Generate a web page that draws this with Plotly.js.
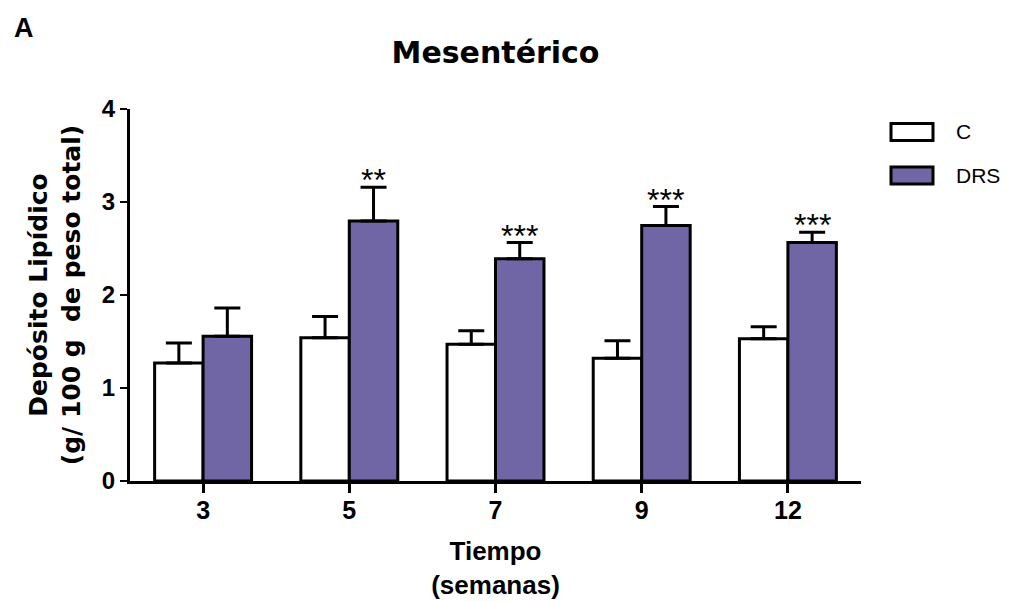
<!DOCTYPE html>
<html>
<head>
<meta charset="utf-8">
<script src="https://cdn.plot.ly/plotly-3.0.1.min.js"></script>
<style>html,body{margin:0;padding:0;background:#fff}</style>
</head>
<body>
<div id="chart" style="width:1016px;height:601px"></div>
<script>
// Mesenteric lipid deposit (g / 100 g body weight), mean + SEM per week
const weeks = ['3', '5', '7', '9', '12'];
const controlMean = [1.27, 1.54, 1.47, 1.32, 1.53];
const controlSem = [0.215, 0.23, 0.146, 0.189, 0.129];
const drsMean = [1.556, 2.797, 2.389, 2.747, 2.564];
const drsSem = [0.305, 0.362, 0.175, 0.204, 0.112];
const drsStars = ['', '**', '***', '***', '***'];
const seriesNames = ['C', 'DRS'];
const yTicks = [0, 1, 2, 3, 4];

const PURPLE = 'rgb(112,102,166)';
const ARIAL = 'Liberation Sans, Arial, sans-serif';
const WIDE = 'DejaVu Sans, sans-serif';

// plot-area geometry in pixels
const W = 1016, H = 601;
const M = {l: 130, r: 155, t: 109, b: 120};
const px2x = p => (p - M.l) / (W - M.l - M.r);
const px2y = p => (H - M.b - p) / (H - M.t - M.b);

const BARGAP = 0.337;

const barStyle = (fill) => ({color: fill, line: {color: '#000', width: 3}});
const errStyle = (arr) => ({
  type: 'data', array: arr, symmetric: false,
  arrayminus: arr.map(() => 0),
  color: '#000', thickness: 3, width: 13
});

const traces = [
  {type: 'bar', name: seriesNames[0], x: weeks, y: controlMean,
   marker: barStyle('#ffffff'), error_y: errStyle(controlSem)},
  {type: 'bar', name: seriesNames[1], x: weeks, y: drsMean,
   marker: barStyle(PURPLE), error_y: errStyle(drsSem)}
];

// significance marks above the DRS error bars
const annotations = [];
const drsOffset = (1 - BARGAP) / 4;
drsStars.forEach((s, i) => {
  if (!s) return;
  annotations.push({
    xref: 'x', yref: 'y', x: i + drsOffset, y: drsMean[i] + drsSem[i],
    text: s, showarrow: false, xanchor: 'center', yanchor: 'middle', yshift: 7,
    font: {family: ARIAL, size: 32, color: '#000'}
  });
});

// panel letter
annotations.push({
  xref: 'paper', yref: 'paper', x: px2x(12), y: px2y(28),
  xanchor: 'left', yanchor: 'middle', showarrow: false, text: 'A',
  font: {family: ARIAL, size: 27, weight: 'bold', color: '#000'}
});

// legend: wide boxes with labels
const legendRows = [{fill: '#ffffff', cy: 132}, {fill: PURPLE, cy: 175.5}];
const shapes = [];
legendRows.forEach((row, k) => {
  shapes.push({
    type: 'rect', xref: 'paper', yref: 'paper',
    x0: px2x(891), x1: px2x(933), y0: px2y(row.cy - 8.5), y1: px2y(row.cy + 8.5),
    fillcolor: row.fill, line: {color: '#000', width: 3}
  });
  annotations.push({
    xref: 'paper', yref: 'paper', x: px2x(954), y: px2y(row.cy),
    xanchor: 'left', yanchor: 'middle', showarrow: false, text: seriesNames[k],
    font: {family: ARIAL, size: 21, color: '#000'}
  });
});

const layout = {
  width: W, height: H,
  margin: M,
  paper_bgcolor: '#ffffff', plot_bgcolor: '#ffffff',
  showlegend: false,
  barmode: 'group', bargap: BARGAP, bargroupgap: 0,
  title: {
    text: 'Mesentérico', x: 0.5, xref: 'paper', xanchor: 'center',
    y: 1 - 52 / H, yref: 'container', yanchor: 'middle',
    font: {family: WIDE, size: 30, weight: 'bold', color: '#000'}
  },
  xaxis: {
    type: 'category', range: [-0.5, 4.5],
    showline: true, linecolor: '#000', linewidth: 3,
    ticks: 'outside', ticklen: 9, tickwidth: 3, tickcolor: '#000',
    ticklabelstandoff: -4,
    showgrid: false, zeroline: false,
    tickfont: {family: ARIAL, size: 25, weight: 'bold', color: '#000'},
    title: {text: 'Tiempo<br>(semanas)', standoff: 19,
            font: {family: ARIAL, size: 26, weight: 'bold', color: '#000'}}
  },
  yaxis: {
    range: [0, 4], tickvals: yTicks,
    showline: true, linecolor: '#000', linewidth: 3,
    ticks: 'outside', ticklen: 7, tickwidth: 2.5, tickcolor: '#000',
    showgrid: false, zeroline: false,
    tickfont: {family: ARIAL, size: 24, weight: 'bold', color: '#000'},
    title: {text: 'Depósito Lipídico<br>(g/ 100 g \u00a0de peso total)', standoff: 15,
            font: {family: WIDE, size: 25, weight: 'bold', color: '#000'}}
  },
  annotations: annotations,
  shapes: shapes
};

Plotly.newPlot('chart', traces, layout, {staticPlot: true, displayModeBar: false});
</script>
</body>
</html>
